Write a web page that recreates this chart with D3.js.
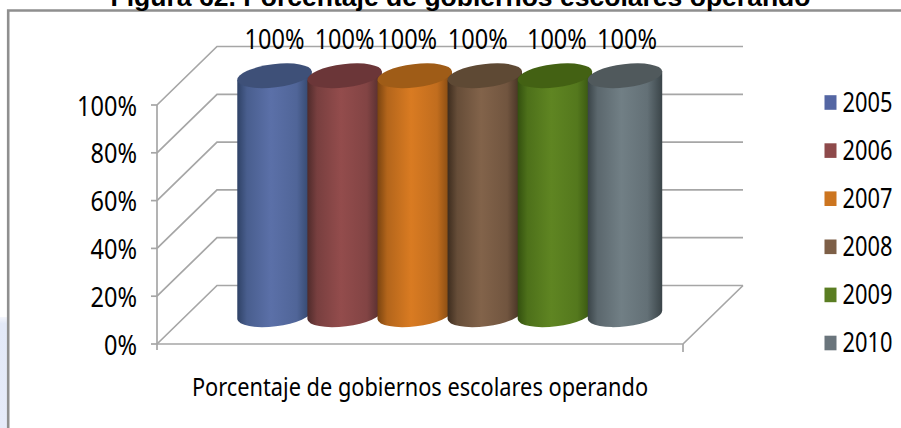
<!DOCTYPE html>
<html><head><meta charset="utf-8">
<script src="https://cdn.jsdelivr.net/npm/d3@7"></script>
<style>html,body{margin:0;padding:0;background:#fff;overflow:hidden}svg{display:block}</style>
</head><body><div id="c"></div>
<script>
const years = ["2005","2006","2007","2008","2009","2010"];
const values = [100,100,100,100,100,100];
const yTicks = [0,20,40,60,80,100];
const sideColors = ["#2f4266","#4f2b2b","#7a4410","#3d2c1e","#33500f","#3a4448"];
const midColors  = ["#5b70a8","#934c4c","#d97b22","#82634a","#5f8522","#717f85"];
const topColors  = ["#3e5078","#6b3638","#9f5c17","#5e4934","#436113","#50595c"];
const legendColors = ["#5466a3","#8e4a4b","#cc7520","#7d5f47","#5a7d22","#6a757c"];
const titleText = "Figura 62. Porcentaje de gobiernos escolares operando";
const axisTitle = "Porcentaje de gobiernos escolares operando";

const W=901,H=428;
const FONT="'Noto Sans',sans-serif";
const svg=d3.select("#c").append("svg").attr("width",W).attr("height",H);
const defs=svg.append("defs");

const y=d3.scaleLinear().domain([0,100]).range([344,105]);
const fx={l:157,r:683}, depth={x:60,y:-58.5};
const band=d3.scalePoint().domain(years).range([274.5,625]);
const legendY=d3.scalePoint().domain(years).range([102.5,343]);

// corner glow
const bg=defs.append("linearGradient").attr("id","bg").attr("x1",0).attr("x2",0).attr("y1",0).attr("y2",1);
bg.append("stop").attr("offset",0).attr("stop-color","#f4f6fc");
bg.append("stop").attr("offset",.06).attr("stop-color","#e3e9f8");
bg.append("stop").attr("offset",1).attr("stop-color","#e6ebf9");
svg.append("rect").attr("x",0).attr("y",317).attr("width",7.5).attr("height",111).attr("fill","url(#bg)");

// frame
const frame=d3.path();frame.moveTo(8.2,H);frame.lineTo(8.2,10.5);frame.lineTo(W,10.5);
svg.append("path").attr("d",frame.toString()).attr("fill","none").attr("stroke","#8f8f8f").attr("stroke-width",2.6);

const titleSel=svg.append("text").attr("x",460.5).attr("y",6).attr("text-anchor","middle")
  .attr("font-family","'Liberation Sans',sans-serif").attr("font-weight",700).attr("font-size",25.5).attr("fill","#000").text(titleText);
titleSel.attr("textLength",700).attr("lengthAdjust","spacingAndGlyphs");

// walls
const grid=svg.append("g").attr("fill","none").attr("stroke","#a6a6a6").attr("stroke-width",1.7);
yTicks.forEach(t=>{
  grid.append("path").attr("d",`M${fx.l},${y(t)}L${fx.l+depth.x},${y(t)+depth.y}L${fx.r+depth.x},${y(t)+depth.y}`);
  grid.append("path").attr("d",`M${fx.l-6},${y(t)}H${fx.l}`);
});
grid.append("path").attr("d",`M${fx.l},${y(0)+6}V${y(100)}`);
grid.append("path").attr("d",`M${fx.l},${y(0)}H${fx.r}L${fx.r+depth.x},${y(0)+depth.y}`);
grid.append("path").attr("d",`M${fx.r},${y(0)}v8`);

function cond(sel,ratio){
  sel.each(function(){
    const len=this.getComputedTextLength();
    d3.select(this).attr("textLength",len*ratio).attr("lengthAdjust","spacingAndGlyphs");
  });
  return sel;
}
const NUM=28, RATIO=.84;
cond(svg.append("g").selectAll("text").data(yTicks).join("text")
  .attr("x",137).attr("y",d=>y(d)+10.5).attr("text-anchor","end")
  .attr("font-family",FONT).attr("font-size",NUM).attr("fill","#000").text(d=>d+"%"),RATIO);

// cylinders
const rx=37.5, ry=11.6, tilt=-7, midY=depth.y/2;
const rad=tilt*Math.PI/180, ex=rx*Math.cos(rad), ey=rx*Math.sin(rad);
years.forEach((yr,i)=>{
  const g=defs.append("linearGradient").attr("id","g"+i);
  [[0,sideColors[i]],[.13,d3.interpolateRgb(sideColors[i],midColors[i])(.6)],[.45,midColors[i]],[.8,d3.interpolateRgb(sideColors[i],midColors[i])(.75)],[1,sideColors[i]]]
   .forEach(s=>g.append("stop").attr("offset",s[0]).attr("stop-color",s[1]));
});
const bars=svg.append("g").selectAll("g").data(years).join("g");
bars.append("path")
  .attr("fill",(d,i)=>`url(#g${i})`)
  .attr("d",(d,i)=>{
    const cx=band(d), t=y(values[i])+midY, b=y(0)+midY;
    return `M${cx-ex},${t-ey}L${cx-ex},${b-ey}A${rx},${ry} ${tilt} 0 0 ${cx+ex},${b+ey}L${cx+ex},${t+ey}Z`;
  });
bars.append("ellipse")
  .attr("rx",rx).attr("ry",ry)
  .attr("transform",(d,i)=>`translate(${band(d)},${y(values[i])+midY}) rotate(${tilt})`)
  .attr("fill",(d,i)=>topColors[i]);

// value labels
const labelNudge=[0,0,-7.5,-7,2,2];
cond(svg.append("g").selectAll("text").data(years).join("text")
  .attr("x",(d,i)=>band(d)+labelNudge[i]).attr("y",49).attr("text-anchor","middle")
  .attr("font-family",FONT).attr("font-size",NUM).attr("fill","#000").text((d,i)=>values[i]+"%"),RATIO);

// axis title
cond(svg.append("text").attr("x",420).attr("y",396).attr("text-anchor","middle")
  .attr("font-family",FONT).attr("font-size",NUM-2).attr("fill","#000").text(axisTitle),.837);

// legend
const lg=svg.append("g").selectAll("g").data(years).join("g").attr("transform",d=>`translate(824.5,${legendY(d)})`);
lg.append("rect").attr("x",0).attr("y",-7.3).attr("width",12).attr("height",14.6).attr("fill",(d,i)=>legendColors[i]);
cond(lg.append("text").attr("x",18).attr("y",9).attr("font-family",FONT).attr("font-size",NUM).attr("fill","#000").text(d=>d),.78);
</script></body></html>
